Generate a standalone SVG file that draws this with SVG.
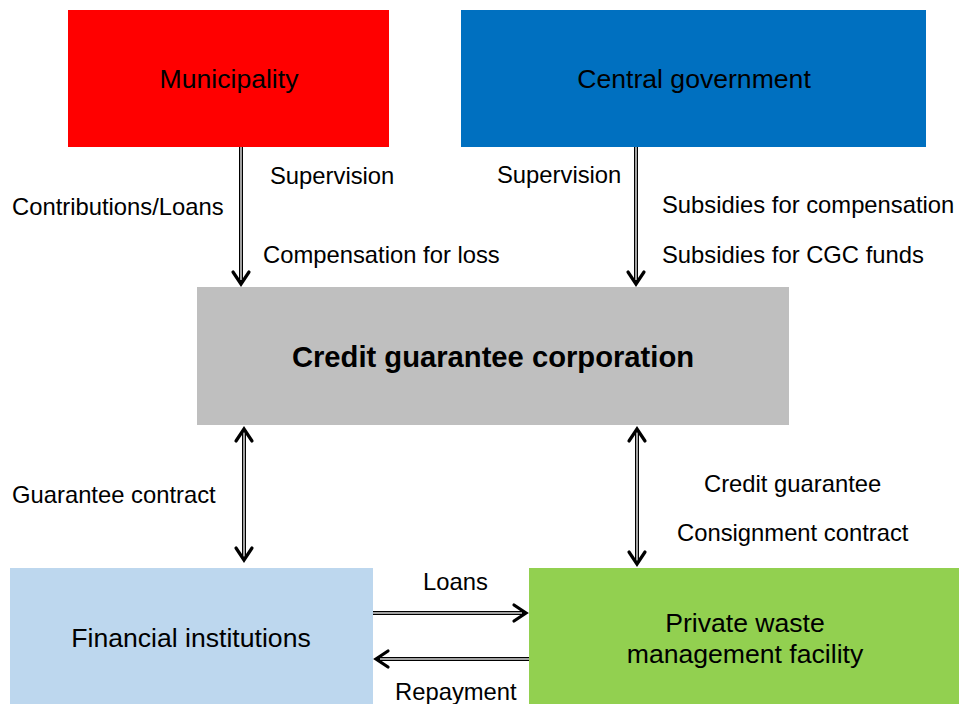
<svg xmlns="http://www.w3.org/2000/svg" width="959" height="704" viewBox="0 0 959 704">
  <style>
    .lbl { font-family: "Liberation Sans", Arial, sans-serif; font-size: 23.8px; fill: #000; }
    .node { font-family: "Liberation Sans", Arial, sans-serif; font-size: 26.6px; fill: #000; text-anchor: middle; }
    .bold { font-weight: bold; font-size: 29.2px; }
    .outer { stroke: #000; stroke-width: 4; fill: none; }
    .inner { stroke: #d9d9d9; stroke-width: 1.5; fill: none; }
    .head { stroke: #000; stroke-width: 3.2; fill: none; stroke-linecap: round; stroke-linejoin: miter; }
  </style>
  <rect width="959" height="704" fill="#fff"/>

  <g id="municipality">
    <rect x="68" y="10" width="321" height="137" fill="#ff0000"/>
    <text class="node" x="229" y="88">Municipality</text>
  </g>
  <g id="central-government">
    <rect x="461" y="10" width="465" height="137" fill="#0070c0"/>
    <text class="node" x="694" y="88">Central government</text>
  </g>
  <g id="credit-guarantee-corporation">
    <rect x="197" y="287" width="592" height="138" fill="#bfbfbf"/>
    <text class="node bold" x="493" y="367">Credit guarantee corporation</text>
  </g>
  <g id="financial-institutions">
    <rect x="10" y="568" width="363" height="136" fill="#bdd7ee"/>
    <text class="node" x="191" y="647">Financial institutions</text>
  </g>
  <g id="private-waste-facility">
    <rect x="529" y="568" width="430" height="136" fill="#92d050"/>
    <text class="node" x="745" y="632">Private waste</text>
    <text class="node" x="745" y="663">management facility</text>
  </g>

  <g id="connectors">
    <!-- Municipality -> CGC -->
    <line class="outer" x1="241" y1="147" x2="241" y2="283"/>
    <line class="inner" x1="241" y1="147" x2="241" y2="280"/>
    <polyline class="head" points="233,272 241,284 249,272"/>
    <!-- Central government -> CGC -->
    <line class="outer" x1="636" y1="147" x2="636" y2="283"/>
    <line class="inner" x1="636" y1="147" x2="636" y2="280"/>
    <polyline class="head" points="628,272 636,284 644,272"/>
    <!-- CGC <-> Financial institutions -->
    <line class="outer" x1="244" y1="429" x2="244" y2="560"/>
    <line class="inner" x1="244" y1="432" x2="244" y2="557"/>
    <polyline class="head" points="236,441 244,429 252,441"/>
    <polyline class="head" points="236,548 244,560 252,548"/>
    <!-- CGC <-> Private waste facility -->
    <line class="outer" x1="637" y1="429" x2="637" y2="564"/>
    <line class="inner" x1="637" y1="432" x2="637" y2="561"/>
    <polyline class="head" points="629,441 637,429 645,441"/>
    <polyline class="head" points="629,552 637,564 645,552"/>
    <!-- Loans -->
    <line class="outer" x1="373" y1="613" x2="525" y2="613"/>
    <line class="inner" x1="373" y1="613" x2="522" y2="613"/>
    <polyline class="head" points="514,605 526,613 514,621"/>
    <!-- Repayment -->
    <line class="outer" x1="529" y1="659" x2="377" y2="659"/>
    <line class="inner" x1="529" y1="659" x2="380" y2="659"/>
    <polyline class="head" points="388,651 376,659 388,667"/>
  </g>

  <g id="labels">
    <text class="lbl" x="270" y="184">Supervision</text>
    <text class="lbl" x="12" y="215">Contributions/Loans</text>
    <text class="lbl" x="263" y="263">Compensation for loss</text>
    <text class="lbl" x="497" y="183">Supervision</text>
    <text class="lbl" x="662" y="213">Subsidies for compensation</text>
    <text class="lbl" x="662" y="263">Subsidies for CGC funds</text>
    <text class="lbl" x="12" y="503">Guarantee contract</text>
    <text class="lbl" x="704" y="492">Credit guarantee</text>
    <text class="lbl" x="677" y="541">Consignment contract</text>
    <text class="lbl" x="423" y="590">Loans</text>
    <text class="lbl" x="395" y="700">Repayment</text>
  </g>
</svg>
